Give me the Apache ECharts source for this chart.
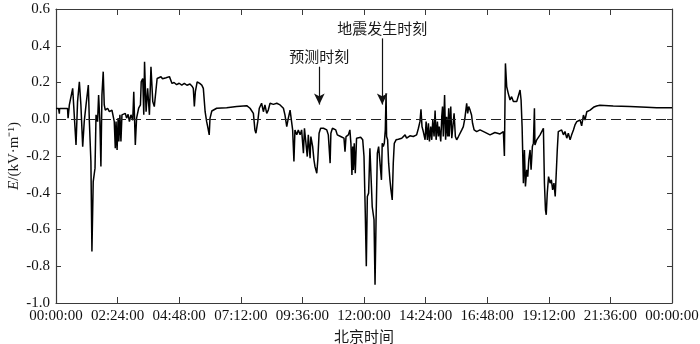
<!DOCTYPE html>
<html>
<head>
<meta charset="utf-8">
<script src="https://cdn.jsdelivr.net/npm/echarts@6/dist/echarts.min.js"></script>
<style>
html,body{margin:0;padding:0;background:#fff;}
#c{width:700px;height:344px;}
</style>
</head>
<body>
<div id="c"></div>
<script>
// time of day in hours (0..24)
var timeHours = [
0.00,0.10,0.13,0.14,0.45,0.47,0.52,0.65,0.71,0.78,0.84,0.91,0.97,1.04,1.10,1.17,1.26,1.30,1.36,1.40,
1.45,1.52,1.56,1.62,1.66,1.71,1.75,1.79,1.84,1.88,1.92,2.01,2.08,2.18,2.27,2.31,2.34,2.38,2.42,2.45,
2.49,2.53,2.57,2.62,2.70,2.75,2.81,2.86,2.92,2.99,3.03,3.06,3.09,3.14,3.22,3.29,3.32,3.38,3.42,3.45,
3.51,3.57,3.64,3.70,3.77,3.83,3.90,3.94,4.00,4.09,4.15,4.22,4.29,4.36,4.42,4.48,4.52,4.60,4.70,4.80,
4.90,5.00,5.10,5.22,5.30,5.35,5.39,5.43,5.50,5.60,5.68,5.74,5.81,5.87,5.91,5.97,6.00,6.07,6.26,6.65,
7.04,7.43,7.56,7.69,7.75,7.79,7.86,7.92,8.01,8.08,8.14,8.21,8.27,8.34,8.47,8.60,8.73,8.86,8.92,8.99,
9.05,9.12,9.22,9.27,9.31,9.38,9.44,9.51,9.57,9.64,9.68,9.74,9.79,9.83,9.90,9.93,10.00,10.05,10.09,10.16,
10.20,10.25,10.31,10.38,10.42,10.48,10.55,10.61,10.68,10.71,10.77,10.83,10.90,10.96,11.03,11.09,11.16,11.22,11.26,11.30,
11.39,11.45,11.49,11.53,11.56,11.58,11.62,11.66,11.71,11.78,11.87,11.95,12.00,12.05,12.09,12.13,12.18,12.23,12.29,12.32,
12.39,12.43,12.47,12.52,12.57,12.62,12.68,12.71,12.75,12.79,12.83,12.86,12.88,12.92,12.96,13.01,13.05,13.10,13.14,13.18,
13.25,13.34,13.47,13.53,13.60,13.66,13.79,13.92,14.05,14.12,14.18,14.22,14.26,14.31,14.38,14.42,14.47,14.51,14.55,14.60,
14.64,14.68,14.73,14.77,14.81,14.86,14.90,14.93,14.99,15.03,15.06,15.09,15.14,15.18,15.22,15.26,15.30,15.32,15.38,15.42,
15.45,15.51,15.56,15.61,15.68,15.74,15.81,15.87,15.93,16.00,16.04,16.08,16.13,16.19,16.23,16.29,16.39,16.52,16.70,16.91,
17.10,17.30,17.43,17.47,17.51,17.56,17.62,17.69,17.75,17.82,17.88,17.95,18.01,18.08,18.12,18.16,18.21,18.25,18.29,18.34,
18.38,18.42,18.47,18.51,18.56,18.60,18.64,18.66,18.73,18.79,18.86,18.92,18.99,19.03,19.07,19.10,19.14,19.19,19.25,19.30,
19.35,19.40,19.45,19.49,19.53,19.57,19.64,19.70,19.77,19.83,19.90,19.96,20.03,20.09,20.16,20.22,20.29,20.35,20.42,20.48,
20.55,20.61,20.68,20.74,20.81,20.94,21.06,21.19,21.71,22.36,23.01,23.40,23.79,24.00
];
// electric field E (kV/m)
var fieldValues = [
0.058,0.058,0.030,0.058,0.058,0.006,0.078,0.168,0.177,-0.140,0.096,0.204,0.078,-0.149,-0.013,0.078,0.186,-0.013,-0.230,-0.720,
-0.339,-0.266,0.024,-0.013,0.132,-0.013,-0.257,0.132,0.259,0.078,0.050,0.060,0.041,0.050,-0.013,-0.158,-0.013,-0.167,0.006,-0.121,
0.024,-0.121,0.024,0.015,0.032,0.006,0.027,-0.013,0.024,-0.005,0.150,0.006,-0.140,0.006,0.060,0.078,0.204,0.222,0.024,0.313,
0.041,0.168,0.024,0.286,0.096,0.069,0.060,0.222,0.228,0.231,0.220,0.228,0.226,0.218,0.232,0.222,0.195,0.200,0.188,0.196,
0.186,0.195,0.185,0.192,0.180,0.168,0.069,0.150,0.204,0.195,0.186,0.168,0.041,-0.013,-0.040,-0.085,0.005,0.045,0.060,0.063,
0.069,0.074,0.060,0.032,-0.058,-0.076,-0.013,0.060,0.087,0.041,0.078,0.032,0.050,0.087,0.081,0.087,0.078,0.060,0.024,-0.040,
0.005,0.050,-0.058,-0.230,-0.058,-0.085,-0.058,-0.085,-0.058,-0.185,-0.049,-0.058,-0.203,-0.085,-0.212,-0.094,-0.149,-0.221,-0.257,-0.294,
-0.221,-0.076,-0.049,-0.040,-0.049,-0.040,-0.058,-0.085,-0.239,-0.076,-0.049,-0.040,-0.058,-0.085,-0.094,-0.094,-0.085,-0.103,-0.176,-0.094,
-0.085,-0.058,-0.131,-0.303,-0.149,-0.276,-0.131,-0.294,-0.103,-0.094,-0.098,-0.112,-0.203,-0.511,-0.800,-0.420,-0.402,-0.158,-0.366,-0.475,
-0.547,-0.900,-0.547,-0.185,-0.149,-0.140,-0.330,-0.131,-0.149,-0.131,-0.058,0.141,-0.094,-0.112,-0.239,-0.330,-0.384,-0.439,-0.239,-0.131,
-0.112,-0.109,-0.103,-0.094,-0.085,-0.103,-0.090,-0.094,-0.085,-0.049,-0.013,0.054,-0.040,-0.067,-0.112,-0.013,-0.112,-0.022,-0.121,-0.040,
-0.112,-0.004,-0.094,0.047,-0.112,-0.013,-0.094,-0.040,-0.121,0.014,0.069,-0.094,0.132,-0.112,0.014,-0.094,0.060,-0.094,0.069,-0.103,
-0.058,0.032,-0.094,-0.112,-0.094,-0.103,-0.058,-0.040,0.005,0.087,0.032,0.069,0.051,0.023,-0.022,-0.058,-0.067,-0.058,-0.070,-0.085,
-0.072,-0.080,-0.067,-0.200,0.304,0.177,0.141,0.105,0.123,0.096,0.105,0.096,0.105,0.159,0.105,-0.040,-0.348,-0.167,-0.366,-0.275,
-0.312,-0.221,-0.167,-0.275,-0.148,-0.130,0.060,-0.140,-0.112,-0.103,-0.085,-0.076,-0.049,-0.348,-0.493,-0.520,-0.402,-0.312,-0.348,-0.330,
-0.384,-0.348,-0.420,-0.429,-0.167,-0.067,-0.067,-0.058,-0.085,-0.067,-0.103,-0.076,-0.112,-0.085,-0.058,-0.031,-0.013,-0.022,-0.004,-0.036,
0.023,-0.004,0.041,0.047,0.050,0.065,0.072,0.076,0.072,0.069,0.065,0.062,0.063,0.062
];
// annotations
var annotationLabels = ['预测时刻', '地震发生时刻'];
var annotationTimes = [10.26, 12.71];
var annotationTop = [0.286, 0.44];
var annotationTip = [0.08, 0.08];

var xMin = 0, xMax = 24, xStep = 2.4;
var yMin = -1.0, yMax = 0.6, yStep = 0.2;

function fmtTime(h) {
  var s = Math.round(h * 3600) % 86400;
  var hh = Math.floor(s / 3600), mm = Math.floor((s % 3600) / 60), ss = s % 60;
  function p(n){ return (n < 10 ? '0' : '') + n; }
  return p(hh) + ':' + p(mm) + ':' + p(ss);
}

var seriesData = timeHours.map(function (t, i) { return [t, fieldValues[i]]; });

var serif = '"Liberation Serif", "Times New Roman", serif';
var cjk = '"Noto Sans CJK SC", sans-serif';
var axisColor = '#3a3a3a';

var lines = [{ yAxis: 0, symbol: 'none', lineStyle: { type: [10, 5], color: '#222', width: 1.1 }, label: { show: false } }];
annotationLabels.forEach(function (lab, i) {
  lines.push([
    { coord: [annotationTimes[i], annotationTop[i]], symbol: 'none',
      label: { show: true, position: 'start', formatter: lab, distance: 3, color: '#1a1a1a', fontSize: 15, fontFamily: cjk },
      lineStyle: { type: 'solid', color: '#111', width: 1.2 } },
    { coord: [annotationTimes[i], annotationTip[i]], symbol: 'arrow', symbolSize: [8, 11] }
  ]);
});

function axisBase(extra) {
  var base = {
    type: 'value',
    axisLine: { show: true, onZero: false, lineStyle: { color: axisColor, width: 1.2 } },
    axisTick: { show: true, inside: true, length: 6, lineStyle: { color: axisColor } },
    splitLine: { show: false }
  };
  for (var k in extra) base[k] = extra[k];
  return base;
}

var chart = echarts.init(document.getElementById('c'), null, { renderer: 'canvas' });
chart.setOption({
  animation: false,
  backgroundColor: '#fff',
  grid: { left: 56, right: 28, top: 9, bottom: 41, outerBoundsMode: 'none' },
  xAxis: [axisBase({
    min: xMin, max: xMax, interval: xStep, position: 'bottom',
    name: '北京时间', nameLocation: 'middle', nameGap: 26, nameMoveOverlap: false,
    nameTextStyle: { fontFamily: cjk, fontSize: 15, color: '#1a1a1a' },
    axisLabel: { formatter: fmtTime, fontFamily: serif, fontSize: 15, color: '#111', margin: 6, showMaxLabel: true, showMinLabel: true }
  }), axisBase({
    min: xMin, max: xMax, interval: xStep, position: 'top',
    axisLabel: { show: false }
  })],
  yAxis: [axisBase({
    min: yMin, max: yMax, interval: yStep, position: 'left',
    name: '{i|E}/(kV·m⁻¹)', nameLocation: 'middle', nameGap: 34, nameMoveOverlap: false,
    nameTextStyle: { fontFamily: serif, fontSize: 15, color: '#1a1a1a',
      rich: { i: { fontFamily: serif, fontSize: 15, fontStyle: 'italic', color: '#1a1a1a' } } },
    axisTick: { show: true, inside: true, length: 5, lineStyle: { color: axisColor } },
    axisLabel: { formatter: function (v) { return v.toFixed(1); }, fontFamily: serif, fontSize: 15, color: '#111', margin: 6 }
  }), axisBase({
    min: yMin, max: yMax, interval: yStep, position: 'right',
    axisTick: { show: true, inside: true, length: 5, lineStyle: { color: axisColor } },
    axisLabel: { show: false }
  })],
  series: [{
    type: 'line', xAxisIndex: 0, yAxisIndex: 0,
    data: seriesData, showSymbol: false, symbol: 'none',
    lineStyle: { color: '#000', width: 1.5 },
    z: 3,
    markLine: {
      silent: true, symbol: ['none', 'none'], animation: false,
      data: lines
    }
  }]
});
</script>
</body>
</html>
